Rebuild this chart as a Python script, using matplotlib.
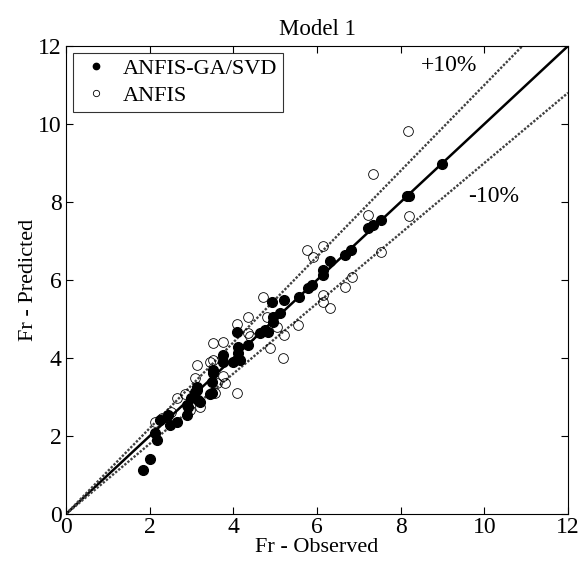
import numpy as np
import matplotlib
matplotlib.use('Agg')
import matplotlib.pyplot as plt

plt.rcParams['font.family'] = ['Liberation Serif', 'DejaVu Serif']

# ANFIS-GA/SVD (filled)
ga_obs = [1.85, 2.01, 2.17, 2.13, 2.25, 2.45, 2.49, 2.65, 2.89, 2.89, 2.92, 3.0, 3.08, 3.12,
          3.12, 3.16, 3.2, 3.44, 3.48, 3.48, 3.52, 3.52, 3.76, 3.76, 4.0, 4.08, 4.12, 4.12,
          4.16, 4.36, 4.64, 4.76, 4.84, 4.92, 4.95, 4.96, 5.12, 5.2, 5.57, 5.79, 5.87, 6.15,
          6.15, 6.31, 6.67, 6.81, 7.23, 7.35, 7.52, 8.15, 8.21, 9.0]
ga_pred = [1.13, 1.41, 1.90, 2.07, 2.41, 2.54, 2.28, 2.37, 2.54, 2.79, 2.75, 2.97, 3.14, 3.18,
           3.26, 2.92, 2.88, 3.09, 3.39, 3.11, 3.69, 3.61, 4.08, 3.91, 3.91, 4.67, 4.29, 4.12,
           3.95, 4.33, 4.63, 4.72, 4.67, 5.44, 4.93, 5.06, 5.15, 5.50, 5.57, 5.79, 5.87, 6.13,
           6.26, 6.50, 6.64, 6.77, 7.33, 7.41, 7.54, 8.15, 8.15, 8.97]

# ANFIS (open)
an_obs = [8.18, 7.35, 7.23, 8.21, 7.52, 5.77, 6.14, 5.90, 6.83, 6.67, 6.14, 6.15, 6.31, 4.72,
          4.36, 4.80, 5.04, 5.20, 5.55, 4.40, 4.08, 5.19, 4.88, 4.09, 3.52, 3.76, 3.12, 3.52,
          3.76, 3.08, 4.36, 3.80, 3.56, 3.44, 2.13, 2.84, 3.2, 2.96, 3.6, 2.65, 2.3, 2.5]
an_pred = [9.82, 8.71, 7.67, 7.64, 6.71, 6.77, 6.87, 6.60, 6.09, 5.83, 5.62, 5.44, 5.27, 5.57,
           5.04, 5.06, 4.80, 4.59, 4.85, 4.56, 4.86, 4.00, 4.26, 3.10, 4.39, 4.42, 3.82, 3.95,
           3.54, 3.50, 4.63, 3.35, 3.10, 3.91, 2.37, 3.09, 2.75, 2.67, 3.35, 2.97, 2.45, 2.62]

fig = plt.figure(figsize=(5.81, 5.71), dpi=100)
ax = fig.add_axes([0.1136, 0.0998, 0.864, 0.8196])

xl = np.array([0, 12])
ax.plot(xl, xl, 'k-', lw=1.8, zorder=2)
ax.plot(xl, 1.1 * xl, color='0.25', ls=(0, (1, 0.7)), lw=1.7, zorder=2)
ax.plot(xl, 0.9 * xl, color='0.25', ls=(0, (1, 0.7)), lw=1.7, zorder=2)

ax.plot(ga_obs, ga_pred, 'o', color='k', ms=7, ls='none', label='ANFIS-GA/SVD', zorder=3)
ax.plot(an_obs, an_pred, 'o', mfc='none', mec='k', mew=0.6, ms=7, ls='none', label='ANFIS', zorder=3)

ax.text(9.16, 11.5, '+10%', fontsize=17, ha='center', va='center')
ax.text(10.23, 8.13, '-10%', fontsize=17, ha='center', va='center')

ax.set_xlim(0, 12)
ax.set_ylim(0, 12)
ax.set_xticks(range(0, 13, 2))
ax.set_yticks(range(0, 13, 2))
ax.tick_params(direction='in', top=True, right=True, labelsize=17, length=5)
ax.tick_params(axis='x', pad=2)
ax.tick_params(axis='y', pad=3)
ax.set_xlabel('Fr - Observed', fontsize=16, labelpad=0)
ax.set_ylabel('Fr - Predicted', fontsize=16, labelpad=0)
ax.set_title('Model 1', fontsize=16.5, pad=8)

leg = ax.legend(loc='upper left', fontsize=16, fancybox=False, edgecolor='k',
                borderaxespad=0.3, handletextpad=0.4, borderpad=0.25, labelspacing=0.3,
                handlelength=1.6, markerscale=0.65)
leg.get_frame().set_linewidth(0.8)

fig.savefig('out.png', dpi=100)
